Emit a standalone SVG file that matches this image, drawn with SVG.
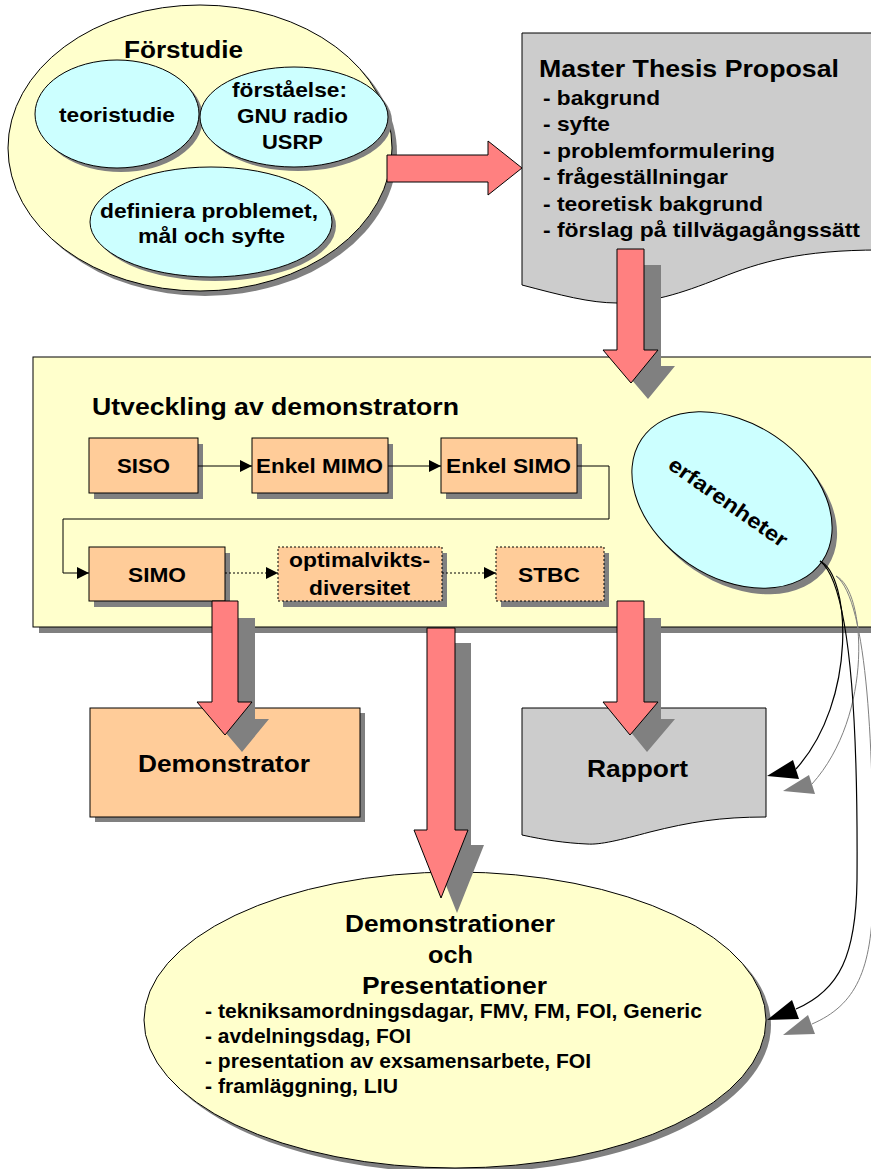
<svg xmlns="http://www.w3.org/2000/svg" width="871" height="1169" viewBox="0 0 871 1169">
  <defs>
    <style>
      .t{font-family:"Liberation Sans",Arial,sans-serif;font-weight:bold;fill:#000}
      .f24{font-size:24px}
      .f21{font-size:21px}
      .f20{font-size:20px}
      .sh{fill:#808080;stroke:none}
      .yel{fill:#FFFFCC;stroke:#000;stroke-width:1}
      .cyan{fill:#CCFFFF;stroke:#000;stroke-width:1}
      .org{fill:#FFCC99;stroke:#000;stroke-width:1}
      .dash{fill:#FFCC99;stroke:#000;stroke-width:1;stroke-dasharray:2 2}
      .doc{fill:#CCCCCC;stroke:#000;stroke-width:1}
      .blk{fill:#FF8080;stroke:#000;stroke-width:1}
      .ln{fill:none;stroke:#000;stroke-width:1}
      .dot{fill:none;stroke:#000;stroke-width:1;stroke-dasharray:2 2}
      .cv{fill:none;stroke:#000;stroke-width:1.2}
      .cvs{fill:none;stroke:#808080;stroke-width:1}
      .hd{fill:#000}
      .hds{fill:#808080}
    </style>
    <marker id="ah" viewBox="0 0 10 10" refX="10" refY="5" markerWidth="14" markerHeight="12" markerUnits="userSpaceOnUse" orient="auto">
      <path d="M0,0 L10,5 L0,10 Z" fill="#000"/>
    </marker>
  </defs>

  <rect width="871" height="1169" fill="#FFFFFF"/>

  <!-- Förstudie cluster -->
  <g id="forstudie">
    <ellipse class="sh" cx="205" cy="153" rx="192" ry="143"/>
    <ellipse class="yel" cx="200" cy="148" rx="192" ry="143"/>
    <text class="t" x="124" y="58" font-size="23" textLength="119" lengthAdjust="spacingAndGlyphs">Förstudie</text>
  </g>
  <g id="teoristudie">
    <ellipse class="sh" cx="121" cy="118" rx="82" ry="54"/>
    <ellipse class="cyan" cx="117" cy="114" rx="82" ry="54"/>
    <text class="t f21" x="59" y="122" textLength="116" lengthAdjust="spacingAndGlyphs">teoristudie</text>
  </g>
  <g id="forstaelse">
    <ellipse class="sh" cx="298" cy="121" rx="94" ry="50"/>
    <ellipse class="cyan" cx="294" cy="117" rx="94" ry="50"/>
    <text class="t f21" x="232" y="97" textLength="115" lengthAdjust="spacingAndGlyphs">förståelse:</text>
    <text class="t f21" x="237" y="123" textLength="111" lengthAdjust="spacingAndGlyphs">GNU radio</text>
    <text class="t f21" x="262" y="149" textLength="61" lengthAdjust="spacingAndGlyphs">USRP</text>
  </g>
  <g id="definiera">
    <ellipse class="sh" cx="215" cy="226" rx="121" ry="55"/>
    <ellipse class="cyan" cx="211" cy="222" rx="121" ry="55"/>
    <text class="t f21" x="100" y="218" textLength="218" lengthAdjust="spacingAndGlyphs">definiera problemet,</text>
    <text class="t f21" x="138" y="243" textLength="147" lengthAdjust="spacingAndGlyphs">mål och syfte</text>
  </g>

  <!-- Master Thesis Proposal document -->
  <g id="proposal">
    <path class="doc" d="M522,33 H880 V250 C 800,250 760,262 720,278 C 680,294 650,303 617,303 C 590,303 560,295 522,285 Z"/>
    <text class="t f24" x="539" y="77" textLength="300" lengthAdjust="spacingAndGlyphs">Master Thesis Proposal</text>
    <text class="t f21" x="543" y="105" textLength="117" lengthAdjust="spacingAndGlyphs">- bakgrund</text>
    <text class="t f21" x="543" y="131" textLength="67" lengthAdjust="spacingAndGlyphs">- syfte</text>
    <text class="t f21" x="543" y="158" textLength="232" lengthAdjust="spacingAndGlyphs">- problemformulering</text>
    <text class="t f21" x="543" y="184" textLength="185" lengthAdjust="spacingAndGlyphs">- frågeställningar</text>
    <text class="t f21" x="543" y="211" textLength="220" lengthAdjust="spacingAndGlyphs">- teoretisk bakgrund</text>
    <text class="t f21" x="543" y="237" textLength="317" lengthAdjust="spacingAndGlyphs">- förslag på tillvägagångssätt</text>
  </g>

  <!-- Development stage container -->
  <g id="utveckling">
    <rect class="sh" x="39" y="363" width="850" height="270"/>
    <rect class="yel" x="33" y="357" width="850" height="270"/>
    <text class="t f24" x="92" y="415" textLength="367" lengthAdjust="spacingAndGlyphs">Utveckling av demonstratorn</text>
  </g>
  <g id="siso">
    <rect class="sh" x="94" y="444" width="109" height="55"/>
    <rect class="org" x="89" y="438" width="109" height="55"/>
    <text class="t f21" x="117" y="473" textLength="53" lengthAdjust="spacingAndGlyphs">SISO</text>
  </g>
  <g id="enkel-mimo">
    <rect class="sh" x="257" y="444" width="136" height="55"/>
    <rect class="org" x="252" y="438" width="136" height="55"/>
    <text class="t f21" x="256" y="473" textLength="127" lengthAdjust="spacingAndGlyphs">Enkel MIMO</text>
  </g>
  <g id="enkel-simo">
    <rect class="sh" x="446" y="444" width="136" height="55"/>
    <rect class="org" x="441" y="438" width="136" height="55"/>
    <text class="t f21" x="446" y="473" textLength="125" lengthAdjust="spacingAndGlyphs">Enkel SIMO</text>
  </g>
  <g id="simo">
    <rect class="sh" x="94" y="553" width="136" height="54"/>
    <rect class="org" x="89" y="547" width="136" height="54"/>
    <text class="t f21" x="128" y="582" textLength="58" lengthAdjust="spacingAndGlyphs">SIMO</text>
  </g>
  <g id="optimalvikt">
    <rect class="sh" x="283" y="553" width="164" height="54"/>
    <rect class="dash" x="278" y="547" width="164" height="54"/>
    <text class="t f21" x="289" y="567" textLength="141" lengthAdjust="spacingAndGlyphs">optimalvikts-</text>
    <text class="t f21" x="309" y="595" textLength="101" lengthAdjust="spacingAndGlyphs">diversitet</text>
  </g>
  <g id="stbc">
    <rect class="sh" x="501" y="553" width="108" height="54"/>
    <rect class="dash" x="496" y="547" width="108" height="54"/>
    <text class="t f21" x="518" y="582" textLength="62" lengthAdjust="spacingAndGlyphs">STBC</text>
  </g>
  <g id="erfarenheter">
    <ellipse class="sh" cx="737" cy="506" rx="109" ry="77" transform="rotate(34 737 506)"/>
    <ellipse class="cyan" cx="732" cy="500" rx="109" ry="77" transform="rotate(34 732 500)"/>
    <text class="t f21" x="0" y="0" text-anchor="middle" textLength="140" lengthAdjust="spacingAndGlyphs" transform="translate(724 508) rotate(35)">erfarenheter</text>
  </g>

  <!-- Outputs -->
  <g id="demonstrator">
    <rect class="sh" x="95" y="713" width="270" height="109"/>
    <rect class="org" x="90" y="708" width="270" height="109"/>
    <text class="t f24" x="138" y="772" textLength="172" lengthAdjust="spacingAndGlyphs">Demonstrator</text>
  </g>
  <g id="rapport">
    <path class="doc" d="M522,708 H766 V817 C 720,817 690,822 650,832 C 620,840 600,845 587,844 C 565,843 545,840 522,835 Z"/>
    <text class="t f24" x="587" y="777" textLength="101" lengthAdjust="spacingAndGlyphs">Rapport</text>
  </g>
  <g id="demonstrationer">
    <ellipse class="sh" cx="460" cy="1025" rx="311" ry="148"/>
    <ellipse class="yel" cx="455" cy="1020" rx="311" ry="148"/>
    <text class="t f24" x="345" y="932" textLength="210" lengthAdjust="spacingAndGlyphs">Demonstrationer</text>
    <text class="t f24" x="428" y="963" textLength="45" lengthAdjust="spacingAndGlyphs">och</text>
    <text class="t f24" x="362" y="994" textLength="185" lengthAdjust="spacingAndGlyphs">Presentationer</text>
    <text class="t f20" x="205" y="1018" textLength="497" lengthAdjust="spacingAndGlyphs">- tekniksamordningsdagar, FMV, FM, FOI, Generic</text>
    <text class="t f20" x="205" y="1043" textLength="206" lengthAdjust="spacingAndGlyphs">- avdelningsdag, FOI</text>
    <text class="t f20" x="205" y="1068" textLength="386" lengthAdjust="spacingAndGlyphs">- presentation av exsamensarbete, FOI</text>
    <text class="t f20" x="205" y="1093" textLength="193" lengthAdjust="spacingAndGlyphs">- framläggning, LIU</text>
  </g>

  <!-- Connectors -->
  <g id="connectors">
    <!-- step chain inside the development stage -->
    <line class="ln" x1="198" y1="466" x2="252" y2="466" marker-end="url(#ah)"/>
    <line class="ln" x1="388" y1="466" x2="441" y2="466" marker-end="url(#ah)"/>
    <polyline class="ln" points="577,466 609,466 609,519 63,519 63,573 89,573" marker-end="url(#ah)"/>
    <line class="dot" x1="225" y1="573" x2="278" y2="573" marker-end="url(#ah)"/>
    <line class="dot" x1="442" y1="573" x2="496" y2="573" marker-end="url(#ah)"/>

    <!-- feedback curves from erfarenheter, with their drop shadows -->
    <g transform="translate(16 15)">
      <path class="cvs" d="M820,561 C 850,575 858,700 796,769"/>
      <polygon class="hds" points="767,776 793,760 799,779"/>
      <path class="cvs" d="M820,561 C 852,585 858,740 857,880 C 856,955 840,990 796,1009"/>
      <polygon class="hds" points="767,1020 792,1000 799,1019"/>
    </g>
    <path class="cv" d="M820,561 C 850,575 858,700 796,769"/>
    <polygon class="hd" points="767,776 793,760 799,779"/>
    <path class="cv" d="M820,561 C 852,585 858,740 857,880 C 856,955 840,990 796,1009"/>
    <polygon class="hd" points="767,1020 792,1000 799,1019"/>

    <!-- block arrows between stages -->
    <polygon class="blk" points="387,155 488,155 488,141 522,168 488,195 488,182 387,182"/>

    <polygon class="sh" transform="translate(17 16)" points="617,249 644,249 644,350 658,350 631,383 603,350 617,350"/>
    <polygon class="blk" points="617,249 644,249 644,350 658,350 631,383 603,350 617,350"/>

    <polygon class="sh" transform="translate(17 17)" points="212,601 238,601 238,702 252,702 225,735 197,702 212,702"/>
    <polygon class="blk" points="212,601 238,601 238,702 252,702 225,735 197,702 212,702"/>

    <polygon class="sh" transform="translate(16 15)" points="427,628 455,628 455,830 468,830 441,898 414,830 427,830"/>
    <polygon class="blk" points="427,628 455,628 455,830 468,830 441,898 414,830 427,830"/>

    <polygon class="sh" transform="translate(17 17)" points="617,601 644,601 644,702 658,702 630,735 603,702 617,702"/>
    <polygon class="blk" points="617,601 644,601 644,702 658,702 630,735 603,702 617,702"/>
  </g>
</svg>
